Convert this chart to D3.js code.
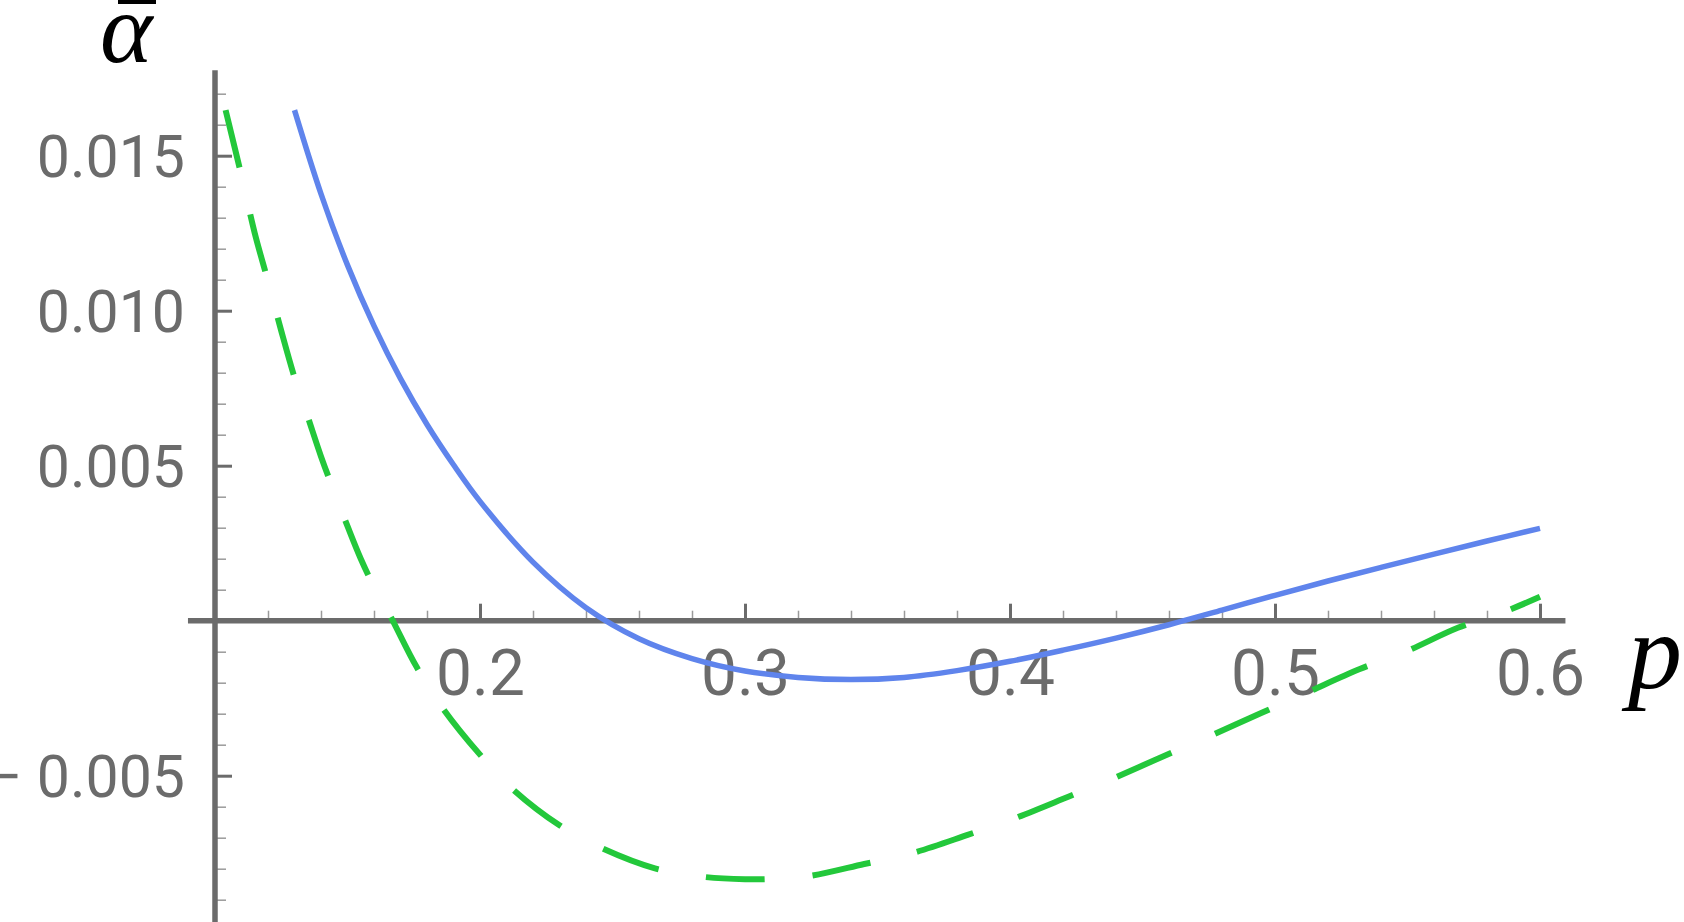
<!DOCTYPE html>
<html>
<head>
<meta charset="utf-8">
<script src="https://cdn.jsdelivr.net/npm/d3@7"></script>
<style>
  body { margin: 0; background: #fff; }
  svg { display: block; }
</style>
</head>
<body>
<div id="chart"></div>
<script>
const w = 1684
const h = 922

const axisGray = "#6b6b6b"
const minorGray = "#9a9a9a"
const blue = "#5f84ec"
const green = "#23c83b"

// solid curve
const pBlue = [0.130, 0.140, 0.150, 0.160, 0.170, 0.180, 0.190, 0.200, 0.220, 0.240, 0.260, 0.280, 0.300,
  0.320, 0.340, 0.360, 0.380, 0.400, 0.420, 0.440, 0.460, 0.480, 0.500, 0.520, 0.540, 0.560, 0.580, 0.600]
const alphaBlue = [0.01647, 0.01377, 0.01147, 0.00951, 0.00781, 0.00633, 0.00503, 0.00385, 0.00189, 0.00042,
  -0.00058, -0.00122, -0.00162, -0.00183, -0.00190, -0.00183, -0.00161, -0.00131, -0.00095, -0.00056,
  -0.00013, 0.00034, 0.00082, 0.00128, 0.00172, 0.00215, 0.00257, 0.00298]

// dashed curve
const pGreen = [0.104, 0.110, 0.115, 0.120, 0.125, 0.130, 0.135, 0.140, 0.145, 0.150, 0.155, 0.160, 0.166,
  0.176, 0.186, 0.200, 0.212, 0.230, 0.245, 0.266, 0.284, 0.300, 0.310, 0.324, 0.345, 0.363, 0.384, 0.401,
  0.422, 0.438, 0.459, 0.475, 0.495, 0.512, 0.532, 0.549, 0.569, 0.586, 0.600]
const alphaGreen = [0.01647, 0.01435, 0.01250, 0.01095, 0.00935, 0.00785, 0.00658, 0.00530, 0.00415, 0.00305,
  0.00200, 0.00110, 0.00018, -0.00148, -0.00283, -0.00432, -0.00541, -0.00660, -0.00730, -0.00799, -0.00826,
  -0.00834, -0.00833, -0.00824, -0.00785, -0.00750, -0.00691, -0.00640, -0.00568, -0.00512, -0.00433,
  -0.00374, -0.00297, -0.00232, -0.00156, -0.00101, -0.00023, 0.00027, 0.00077]

const xTicks = [0.2, 0.3, 0.4, 0.5, 0.6]
const xTickLabels = ["0.2", "0.3", "0.4", "0.5", "0.6"]
const xMinor = [0.12, 0.14, 0.16, 0.18, 0.22, 0.24, 0.26, 0.28, 0.32, 0.34, 0.36, 0.38,
  0.42, 0.44, 0.46, 0.48, 0.52, 0.54, 0.56, 0.58]
const yTicks = [-0.005, 0.005, 0.010, 0.015]
const yTickLabels = ["\u2212 0.005", "0.005", "0.010", "0.015"]
const yMinor = d3.range(-9, 18).filter(d => d % 5 != 0).map(d => d / 1000)

// axis extents (axes run a bit past the plotted range)
const xAxisExtent = [0.0898, 0.6096]
const yAxisExtent = [-0.0105, 0.01776]

const x = d3.scaleLinear()
  .domain([0.1, 0.6])
  .range([215, 1540])

const y = d3.scaleLinear()
  .domain([0, 0.015])
  .range([620.7, 155.7])

const svg = d3.select('#chart').append('svg')
  .attr('width', w)
  .attr('height', h)
  .attr('viewBox', `0 0 ${w} ${h}`)

const fontFamily = "Roboto, 'Open Sans', sans-serif"

// minor ticks
svg.append('g')
  .attr('transform', `translate(0,${y(0)})`)
  .call(d3.axisBottom(x).tickValues(xMinor).tickSize(-10).tickFormat(''))
  .call(g => g.select('.domain').remove())
  .call(g => g.selectAll('.tick line')
    .attr('stroke', minorGray)
    .attr('stroke-width', 1.5))

svg.append('g')
  .attr('transform', `translate(${x(0.1)},0)`)
  .call(d3.axisLeft(y).tickValues(yMinor).tickSize(-11).tickFormat(''))
  .call(g => g.select('.domain').remove())
  .call(g => g.selectAll('.tick line')
    .attr('stroke', minorGray)
    .attr('stroke-width', 1.5))

// major ticks + labels
svg.append('g')
  .attr('transform', `translate(0,${y(0)})`)
  .call(d3.axisBottom(x).tickValues(xTicks).tickSize(-17)
    .tickFormat((d, i) => xTickLabels[i]))
  .call(g => g.select('.domain').remove())
  .call(g => g.selectAll('.tick line')
    .attr('stroke', axisGray)
    .attr('stroke-width', 3))
  .call(g => g.selectAll('.tick text')
    .attr('y', 74)
    .attr('dy', null)
    .attr('fill', axisGray)
    .style('font-family', fontFamily)
    .style('font-size', '64px'))

svg.append('g')
  .attr('transform', `translate(${x(0.1)},0)`)
  .call(d3.axisLeft(y).tickValues(yTicks).tickSize(-17).tickPadding(30)
    .tickFormat((d, i) => yTickLabels[i]))
  .call(g => g.select('.domain').remove())
  .call(g => g.selectAll('.tick line')
    .attr('stroke', axisGray)
    .attr('stroke-width', 3))
  .call(g => g.selectAll('.tick text')
    .attr('dy', '0.36em')
    .attr('fill', axisGray)
    .style('font-family', fontFamily)
    .style('font-size', '59px'))

// axis lines
svg.append('line')
  .attr('x1', x(xAxisExtent[0]))
  .attr('x2', x(xAxisExtent[1]))
  .attr('y1', y(0))
  .attr('y2', y(0))
  .attr('stroke', axisGray)
  .attr('stroke-width', 5.5)

svg.append('line')
  .attr('x1', x(0.1))
  .attr('x2', x(0.1))
  .attr('y1', y(yAxisExtent[0]))
  .attr('y2', y(yAxisExtent[1]))
  .attr('stroke', axisGray)
  .attr('stroke-width', 5.5)

// curves
const line = d3.line()
  .x(d => x(d[0]))
  .y(d => y(d[1]))
  .curve(d3.curveCatmullRom.alpha(0.5))

svg.append('path')
  .attr('d', line(d3.zip(pGreen, alphaGreen)))
  .attr('fill', 'none')
  .attr('stroke', green)
  .attr('stroke-width', 6)
  .attr('stroke-dasharray', '59,48')

svg.append('path')
  .attr('d', line(d3.zip(pBlue, alphaBlue)))
  .attr('fill', 'none')
  .attr('stroke', blue)
  .attr('stroke-width', 5.5)

// axis labels
svg.append('text')
  .attr('x', 100)
  .attr('y', 62)
  .style('font-family', "'Liberation Serif', serif")
  .style('font-style', 'italic')
  .style('font-size', '100px')
  .text('α')

svg.append('line') // bar over alpha
  .attr('x1', 118)
  .attr('x2', 156)
  .attr('y1', 2)
  .attr('y2', 2)
  .attr('stroke', 'black')
  .attr('stroke-width', 4)

svg.append('text')
  .attr('x', 1628)
  .attr('y', 688)
  .style('font-family', "'Liberation Serif', serif")
  .style('font-style', 'italic')
  .style('font-size', '108px')
  .text('p')
</script>
</body>
</html>
